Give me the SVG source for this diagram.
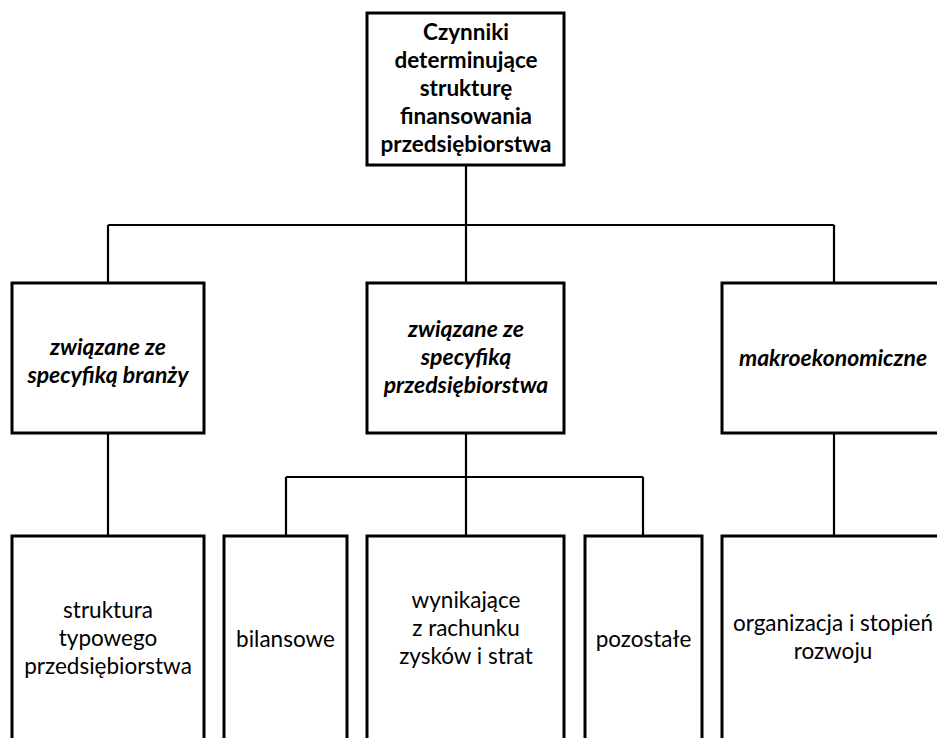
<svg xmlns="http://www.w3.org/2000/svg" width="937" height="738" viewBox="0 0 937 738">
<style>
.box{fill:#fff;stroke:#000;stroke-width:3}
.ln{fill:none;stroke:#000;stroke-width:2.2}
text{font-family:Lato,"Open Sans","Liberation Sans",sans-serif;font-size:22.5px;fill:#000;text-anchor:middle}
.b{font-weight:bold}
.bi{font-weight:bold;font-style:italic;font-size:23px}
</style>
<rect width="937" height="738" fill="#fff"/>
<g id="connectors">
<path class="ln" d="M466 165V283M108 225H834M108 225V283M834 225V283"/>
<path class="ln" d="M108 433V536M466 433V536M286 477H643M286 477V536M643 477V536M834 433V536"/>
</g>
<g id="root">
<rect class="box" x="367" y="13" width="197" height="152"/>
<text class="b" x="466" y="40">Czynniki</text>
<text class="b" x="466" y="68">determinujące</text>
<text class="b" x="466" y="96">strukturę</text>
<text class="b" x="466" y="124">finansowania</text>
<text class="b" x="466" y="152">przedsiębiorstwa</text>
</g>
<g id="branza">
<rect class="box" x="12" y="283" width="192" height="150"/>
<text class="bi" x="108" y="355">związane ze</text>
<text class="bi" x="108" y="383">specyfiką branży</text>
</g>
<g id="przedsiebiorstwo">
<rect class="box" x="367" y="283" width="197" height="150"/>
<text class="bi" x="466" y="337">związane ze</text>
<text class="bi" x="466" y="365">specyfiką</text>
<text class="bi" x="466" y="393">przedsiębiorstwa</text>
</g>
<g id="makro">
<rect class="box" x="722" y="283" width="230" height="150"/>
<text class="bi" x="833" y="366">makroekonomiczne</text>
</g>
<g id="struktura">
<rect class="box" x="12" y="536" width="192" height="220"/>
<text x="108" y="618">struktura</text>
<text x="108" y="646">typowego</text>
<text x="108" y="674">przedsiębiorstwa</text>
</g>
<g id="bilansowe">
<rect class="box" x="224" y="536" width="123" height="220"/>
<text x="285.5" y="647">bilansowe</text>
</g>
<g id="wynikajace">
<rect class="box" x="367" y="536" width="197" height="220"/>
<text x="466" y="608">wynikające</text>
<text x="466" y="636">z rachunku</text>
<text x="466" y="664">zysków i strat</text>
</g>
<g id="pozostale">
<rect class="box" x="585" y="536" width="117" height="220"/>
<text x="643.5" y="647">pozostałe</text>
</g>
<g id="organizacja">
<rect class="box" x="722" y="536" width="230" height="220"/>
<text x="833" y="631">organizacja i stopień</text>
<text x="833" y="659">rozwoju</text>
</g>
</svg>
